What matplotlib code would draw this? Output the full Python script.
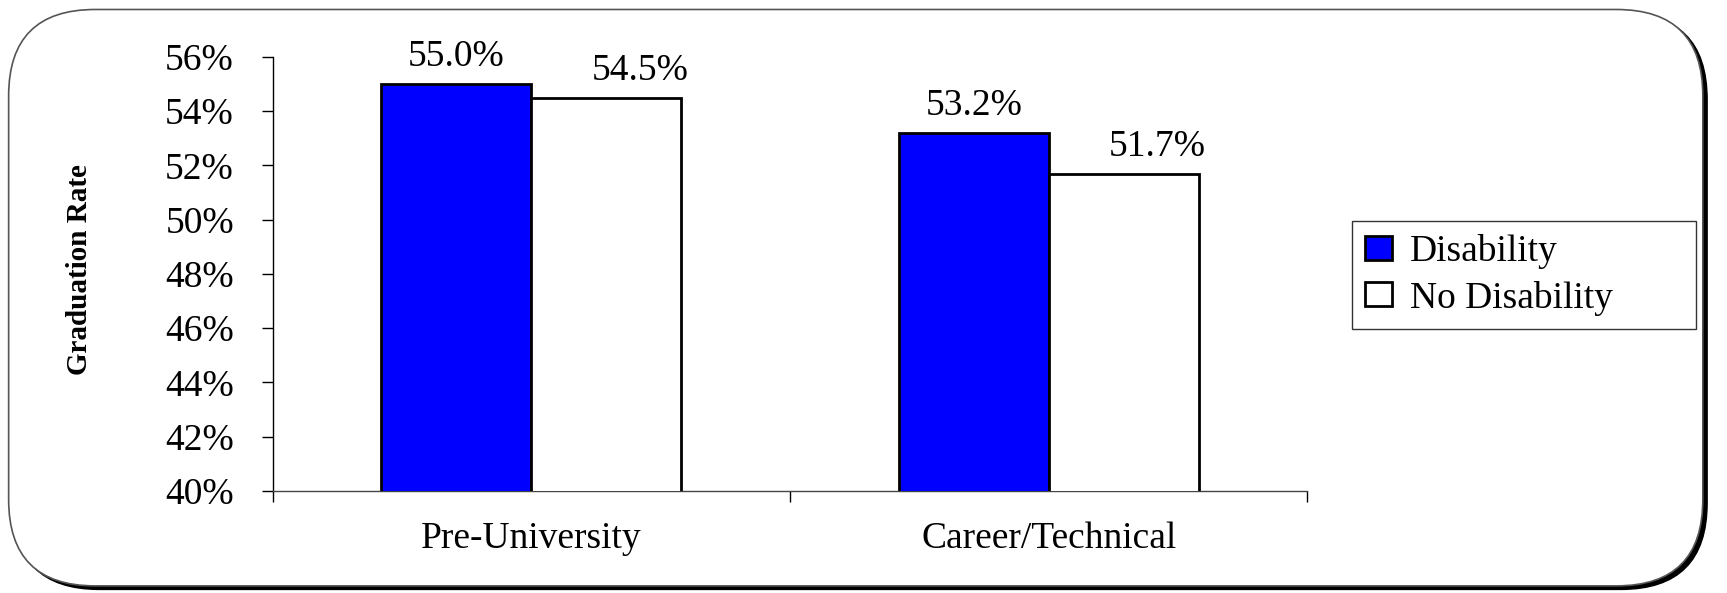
import numpy as np
from matplotlib import pyplot as plt
from matplotlib.patches import FancyBboxPatch, Patch

categories = ['Pre-University', 'Career/Technical']
disability = [0.550, 0.532]
no_disability = [0.545, 0.517]
series_names = ['Disability', 'No Disability']
yticks = [0.40, 0.42, 0.44, 0.46, 0.48, 0.50, 0.52, 0.54, 0.56]

plt.rcParams['font.family'] = ['Liberation Serif', 'DejaVu Serif']
FS = 27

fig = plt.figure(figsize=(17.27, 5.93), dpi=100)

# rounded frame with a drop shadow
shadow = FancyBboxPatch((0.0075, 0.006), 0.981, 0.972, boxstyle='round,pad=0,rounding_size=0.05',
                        transform=fig.transFigure, facecolor='black', edgecolor='black',
                        mutation_aspect=1727 / 593, zorder=0)
frame = FancyBboxPatch((0.005, 0.012), 0.981, 0.972, boxstyle='round,pad=0,rounding_size=0.05',
                       transform=fig.transFigure, facecolor='white', edgecolor='#555555',
                       linewidth=1.2, mutation_aspect=1727 / 593, zorder=1)
fig.patches.extend([shadow, frame])

ax = fig.add_axes([0.158, 0.172, 0.599, 0.732])
ax.set_facecolor('none')
ax.set_zorder(2)

x = np.arange(len(categories))
w = 0.29
b1 = ax.bar(x - w / 2, disability, w, color='#0000ff', edgecolor='black', linewidth=2,
            label=series_names[0], zorder=3)
b2 = ax.bar(x + w / 2, no_disability, w, color='white', edgecolor='black', linewidth=2,
            label=series_names[1], zorder=3)

for rect, v in zip(b1, disability):
    ax.annotate(f'{v * 100:.1f}%', (rect.get_x() + rect.get_width() / 2, v),
                xytext=(0, 7), textcoords='offset points', ha='center', va='bottom', fontsize=FS)
for rect, v in zip(b2, no_disability):
    ax.annotate(f'{v * 100:.1f}%', (rect.get_x() + rect.get_width() / 2, v),
                xytext=(24, 7), textcoords='offset points', ha='center', va='bottom', fontsize=FS)

ax.set_ylim(0.40, 0.56)
ax.set_xlim(-0.5, len(categories) - 0.5)
ax.set_yticks(yticks)
ax.set_yticklabels([f'{t * 100:.0f}%' for t in yticks], fontsize=FS)
ax.tick_params(axis='y', length=8, width=1, pad=20, colors='black')

ax.set_xticks(np.arange(len(categories) + 1) - 0.5)
ax.set_xticklabels([])
ax.tick_params(axis='x', which='major', length=8, width=1, direction='out')
ax.set_xticks(x, minor=True)
ax.set_xticklabels(categories, minor=True, fontsize=FS)
ax.tick_params(axis='x', which='minor', length=0, pad=22)

for s in ['top', 'right']:
    ax.spines[s].set_visible(False)
ax.spines['left'].set_linewidth(1)
ax.spines['bottom'].set_linewidth(1)
ax.spines['bottom'].set_color('#444444')

fig.text(0.046, 0.546, 'Graduation Rate', rotation=90, ha='center', va='center',
         fontsize=21, fontweight='bold', zorder=3)

handles = [Patch(facecolor='#0000ff', edgecolor='black', linewidth=2),
           Patch(facecolor='white', edgecolor='black', linewidth=2)]
leg = fig.legend(handles, series_names, loc='upper left', bbox_to_anchor=(0.783, 0.454, 0.199, 0.173),
                 mode='expand', borderaxespad=0, fontsize=FS, frameon=True, fancybox=False,
                 edgecolor='black', handlelength=0.7, handleheight=0.6, handletextpad=0.5,
                 borderpad=0.35, labelspacing=0.3)
leg.get_frame().set_linewidth(1)
leg.set_zorder(3)

fig.savefig('out.png', dpi=100)
